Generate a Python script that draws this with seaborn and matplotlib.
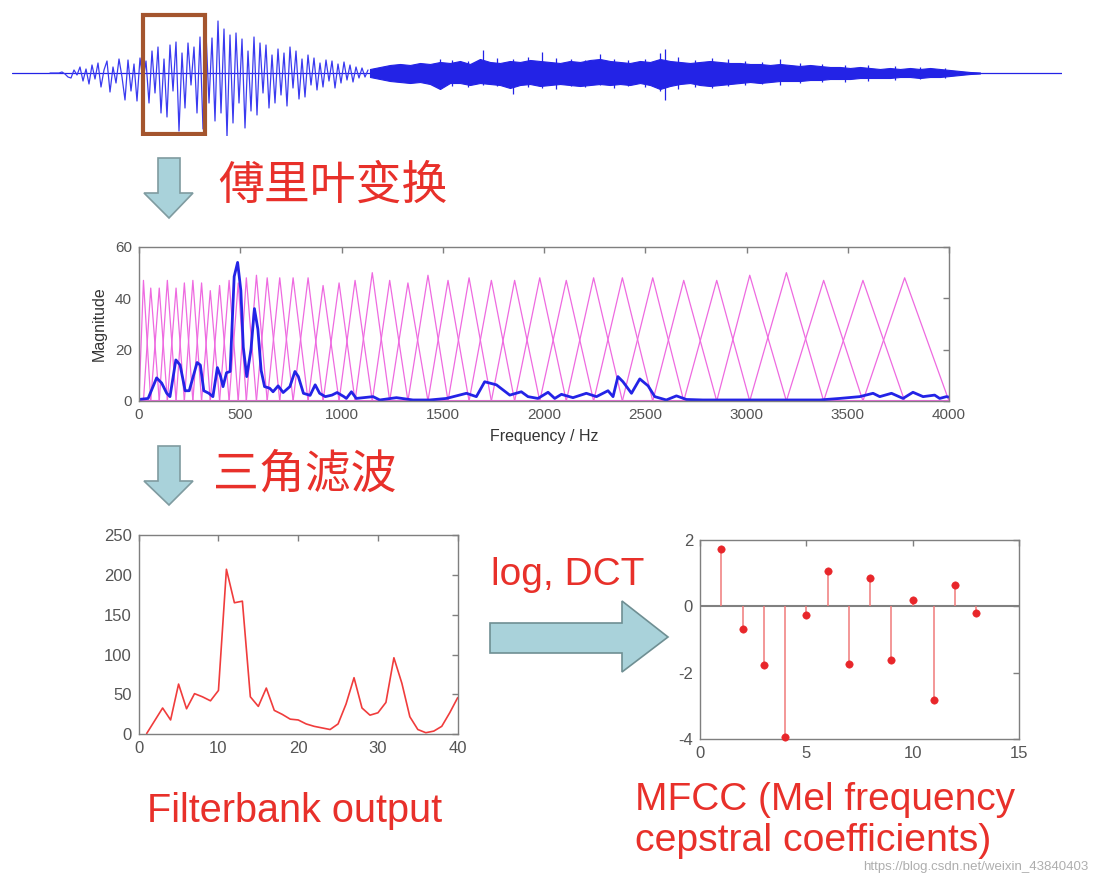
import numpy as np
import pandas as pd
import seaborn as sns
import matplotlib.pyplot as plt
from matplotlib.patches import Rectangle, Polygon

# ---- datos ----
# forma de onda (t en px de la imagen), parte inicial con oscilaciones visibles
onda_t = np.arange(50, 369, 3)
onda_y = [0, 0, 0, 0, 1, -1, -4, -5, 3, -2,
          6, -8, 4, -11, 8, -6, 10, -14, 3, 12,
          -19, 6, -10, 14, -4, -27, 13, -18, 9, -28,
          15, -8, 12, -30, 22, -20, 26, -40, 14, -44,
          28, -18, 31, -58, 20, -35, 30, -12, 26, -40,
          36, -56, 40, -30, 35, -48, 52, -40, 44, -64,
          38, -50, 40, -30, 34, -55, 22, -38, 36, -42,
          30, -20, 28, -35, 18, -30, 24, -22, 20, -33,
          26, -15, 22, -26, 14, -24, 18, -12, 15, -17,
          10, -14, 13, -8, 12, -15, 9, -10, 11, -7,
          8, -9, 6, -5, 5, -4, 3]
# parte densa: envolvente superior / inferior
env_t = np.arange(370, 981, 10)
env_sup = [4, 6, 8, 9, 8, 10, 9, 11, 10, 12,
           9, 14, 11, 10, 12, 11, 13, 12, 11, 10,
           12, 11, 13, 14, 12, 11, 10, 12, 11, 14,
           12, 11, 10, 11, 12, 11, 10, 10, 9, 9,
           8, 9, 8, 7, 8, 7, 6, 6, 5, 6,
           5, 4, 5, 4, 5, 4, 5, 4, 3, 2,
           1, 0.5]
env_inf = [-4, -6, -8, -9, -10, -9, -11, -16, -10, -10,
           -12, -10, -11, -12, -15, -12, -11, -13, -12, -11,
           -12, -13, -12, -11, -12, -11, -12, -10, -12, -16,
           -13, -11, -10, -12, -13, -12, -11, -10, -9, -10,
           -9, -8, -8, -8, -7, -7, -6, -6, -6, -5,
           -5, -5, -5, -4, -4, -5, -4, -4, -3, -2,
           -1, -0.5]
pico_t = [440, 452, 468, 483, 497, 513, 528, 542, 556, 571, 585, 600, 614, 628, 645,
          660, 665, 678, 695, 712, 728, 745, 762, 780, 800, 822, 845, 868, 895, 920, 945]
pico_sup = [14, 13, 12, 23, 15, 14, 16, 21, 15, 14, 13, 19, 14, 13, 14,
            20, 24, 16, 13, 15, 14, 12, 11, 14, 10, 9, 8, 8, 7, 6, 5]
pico_inf = [-16, -13, -14, -12, -13, -21, -14, -15, -16, -13, -14, -12, -15, -13, -14,
            -18, -27, -16, -14, -15, -13, -12, -11, -12, -10, -9, -9, -8, -7, -6, -5]

# espectro
frec = [0, 45, 87, 112, 137, 153, 182, 203, 228, 248, 287, 303, 320, 345, 365, 387, 403, 415,
        432, 450, 470, 487, 503, 515, 532, 553, 570, 587, 603, 620, 645, 662, 687, 712, 745,
        770, 787, 812, 845, 870, 892, 920, 953, 978, 1012, 1024, 1049, 1073, 1156, 1189, 1271,
        1353, 1436, 1518, 1617, 1666, 1707, 1765, 1831, 1888, 1921, 1970, 2020, 2053, 2086,
        2143, 2209, 2259, 2316, 2341, 2365, 2390, 2432, 2473, 2514, 2547, 2604, 2654, 2703,
        2785, 3032, 3361, 3460, 3559, 3625, 3658, 3716, 3773, 3822, 3872, 3929, 3954, 3987, 4000]
magnitud = [0.6, 1, 9, 7, 3, 1.7, 16, 14, 4, 4, 15, 14, 4, 3, 1.7, 13, 9.5, 5.6,
            11, 11.5, 48.5, 54, 43, 21, 9.5, 20, 36, 28, 12, 5.6, 5, 3.6, 5.9, 3.3, 5.6,
            11.5, 9.5, 3, 2.2, 6.3, 3, 1.7, 2.3, 3.3, 1.7, 1, 3.6, 1, 1.7, 0.4, 1.3,
            0.4, 0.4, 1, 3, 1.7, 7.5, 6.3, 2.3, 3.6, 1.7, 1, 3.4, 1, 2.6,
            1.3, 3, 1.7, 4, 1.7, 9.5, 7.5, 3, 8.6, 5.9, 1.7, 0.4, 2, 0.6,
            0.4, 0.4, 0.4, 1, 1.7, 3, 1.7, 3, 1, 3.4, 1.7, 2.3, 1, 1.7, 1.5]

# centros y alturas de los filtros triangulares
centros = [22, 58, 100, 140, 183, 224, 266, 309, 352, 398, 445, 490, 530, 580, 633, 695,
           761, 835, 909, 988, 1067, 1152, 1238, 1328, 1427, 1526, 1630, 1740, 1855, 1979,
           2110, 2245, 2387, 2537, 2690, 2853, 3016, 3197, 3381, 3575, 3781]
alturas = [47, 44, 44, 47, 44, 46, 47, 46, 43, 45, 47, 46, 48, 49, 48, 48,
           48, 48, 45, 46, 47, 50, 47, 46, 49, 47, 48, 47, 47, 48,
           47, 48, 48, 48, 47, 47, 49, 50, 47, 47, 48]

# salida del banco de filtros
banda = list(range(1, 41))
salida = [1, 17, 33, 18, 63, 32, 51, 47, 42, 55, 207, 165, 167, 47, 35, 58, 30, 25, 19, 18,
          13, 10, 8, 6, 13, 38, 71, 33, 24, 27, 40, 96, 64, 22, 6, 2, 4, 10, 27, 46]

# coeficientes MFCC
coef_n = list(range(1, 14))
coef = [1.73, -0.68, -1.77, -3.94, -0.26, 1.06, -1.74, 0.84, -1.63, 0.19, -2.82, 0.63, -0.21]

# ---- figura ----
sns.set_theme(style="white")
plt.rcParams['font.family'] = ['Liberation Sans', 'DejaVu Sans']
plt.rcParams['axes.unicode_minus'] = False
W, H = 1097, 874
fig = plt.figure(figsize=(W / 100, H / 100), dpi=100)
fig.patch.set_facecolor('white')

gris = '#555555'
rojo = '#e8302a'
azul = '#2323e6'
rosa = '#ee6ae0'


def estilo_matlab(ax, fs):
    for s in ax.spines.values():
        s.set_color('#7f7f7f')
        s.set_linewidth(1)
    ax.tick_params(direction='in', top=True, right=True, length=4, width=1,
                   color='#7f7f7f', labelcolor=gris, labelsize=fs, pad=5)


# fondo para flechas y textos (coordenadas en pixeles)
fondo = fig.add_axes([0, 0, 1, 1])
fondo.set_xlim(0, W)
fondo.set_ylim(H, 0)
fondo.axis('off')

# forma de onda
ax0 = fig.add_axes([12 / W, 1 - 136 / H, 1050 / W, 126 / H])
ax0.axis('off')
ax0.set_xlim(12, 1062)
ax0.set_ylim(-63, 63)
ax0.axhline(0, color=azul, lw=0.9)
ax0.fill_between(env_t, env_inf, env_sup, color=azul, lw=0.8)
ax0.vlines(pico_t, pico_inf, pico_sup, color=azul, lw=0.9)
sns.lineplot(x=onda_t, y=onda_y, ax=ax0, color='#3a3af0', lw=0.9)
ax0.add_patch(Rectangle((143, -61), 62, 119, fill=False, ec='#a4552e', lw=3, zorder=5))

# espectro + filtros
ax1 = fig.add_axes([139 / W, 1 - 401 / H, 810 / W, 154 / H])
filas = []
bordes = [0] + centros + [4000]
for i in range(len(centros)):
    filas += [(bordes[i], 0, i), (bordes[i + 1], alturas[i], i), (bordes[i + 2], 0, i)]
tri = pd.DataFrame(filas, columns=['f', 'm', 'id'])
sns.lineplot(data=tri, x='f', y='m', units='id', estimator=None, color=rosa, lw=0.9, ax=ax1)
ax1.axhline(0, color=rosa, lw=1.5)
sns.lineplot(x=frec, y=magnitud, ax=ax1, color=azul, lw=2.0)
ax1.set_xlim(0, 4000)
ax1.set_ylim(0, 60)
ax1.set_xticks(range(0, 4001, 500))
ax1.set_yticks([0, 20, 40, 60])
estilo_matlab(ax1, 11)
ax1.set_xlabel('Frequency / Hz', fontsize=11.5, color='#333333', labelpad=5)
ax1.set_ylabel('Magnitude', fontsize=11.5, color='#333333', labelpad=6)

# salida del banco de filtros
ax2 = fig.add_axes([138.7 / W, 1 - 734.3 / H, 319 / W, 199.3 / H])
sns.lineplot(x=banda, y=salida, ax=ax2, color='#f03c3c', lw=1.2)
ax2.set_xlim(0, 40)
ax2.set_ylim(0, 250)
ax2.set_xticks([0, 10, 20, 30, 40])
ax2.set_yticks(range(0, 251, 50))
estilo_matlab(ax2, 12)

# MFCC
ax3 = fig.add_axes([700 / W, 1 - 739 / H, 319 / W, 199 / H])
ax3.axhline(0, color='#808080', lw=1.5)
ax3.vlines(coef_n, 0, coef, color='#f07a7a', lw=1.1)
sns.scatterplot(x=coef_n, y=coef, ax=ax3, color='#e8262a', s=28, edgecolor='#e8262a',
                zorder=5, clip_on=False)
ax3.set_xlim(0, 15)
ax3.set_ylim(-4, 2)
ax3.set_xticks([0, 5, 10, 15])
ax3.set_yticks([-4, -2, 0, 2])
estilo_matlab(ax3, 12)

# flechas
relleno = '#a9d2da'
borde = '#7f9ba0'


def flecha_abajo(y0, yal, ypunta):
    pts = [(158, y0), (180, y0), (180, yal), (193, yal), (169, ypunta), (144, yal), (158, yal)]
    fondo.add_patch(Polygon(pts, closed=True, fc=relleno, ec=borde, lw=1.2))


flecha_abajo(158, 193, 218)
flecha_abajo(446, 481, 505)
pts = [(490, 623), (622, 623), (622, 601), (668, 637), (622, 672), (622, 653), (490, 653)]
fondo.add_patch(Polygon(pts, closed=True, fc=relleno, ec='#6f8f93', lw=1.2))

# textos
cjk = ['Noto Sans CJK SC', 'DejaVu Sans']
fondo.text(218, 186, '傅里叶变换', family=cjk, fontsize=33, color=rojo, va='center', ha='left',
           fontweight='light')
fondo.text(213, 474, '三角滤波', family=cjk, fontsize=33, color=rojo, va='center', ha='left',
           fontweight='light')
fondo.text(491, 585, 'log, DCT', fontsize=28, color=rojo, va='baseline')
fondo.text(147, 822, 'Filterbank output', fontsize=28.5, color=rojo, va='baseline')
fondo.text(635, 810, 'MFCC (Mel frequency', fontsize=28, color=rojo, va='baseline')
fondo.text(635, 851, 'cepstral coefficients)', fontsize=28.3, color=rojo, va='baseline')
fondo.text(1088, 870, 'https://blog.csdn.net/weixin_43840403', fontsize=9.5, color='#9a9a9a',
           va='baseline', ha='right', alpha=0.8)

fig.savefig('out.png', dpi=100)
